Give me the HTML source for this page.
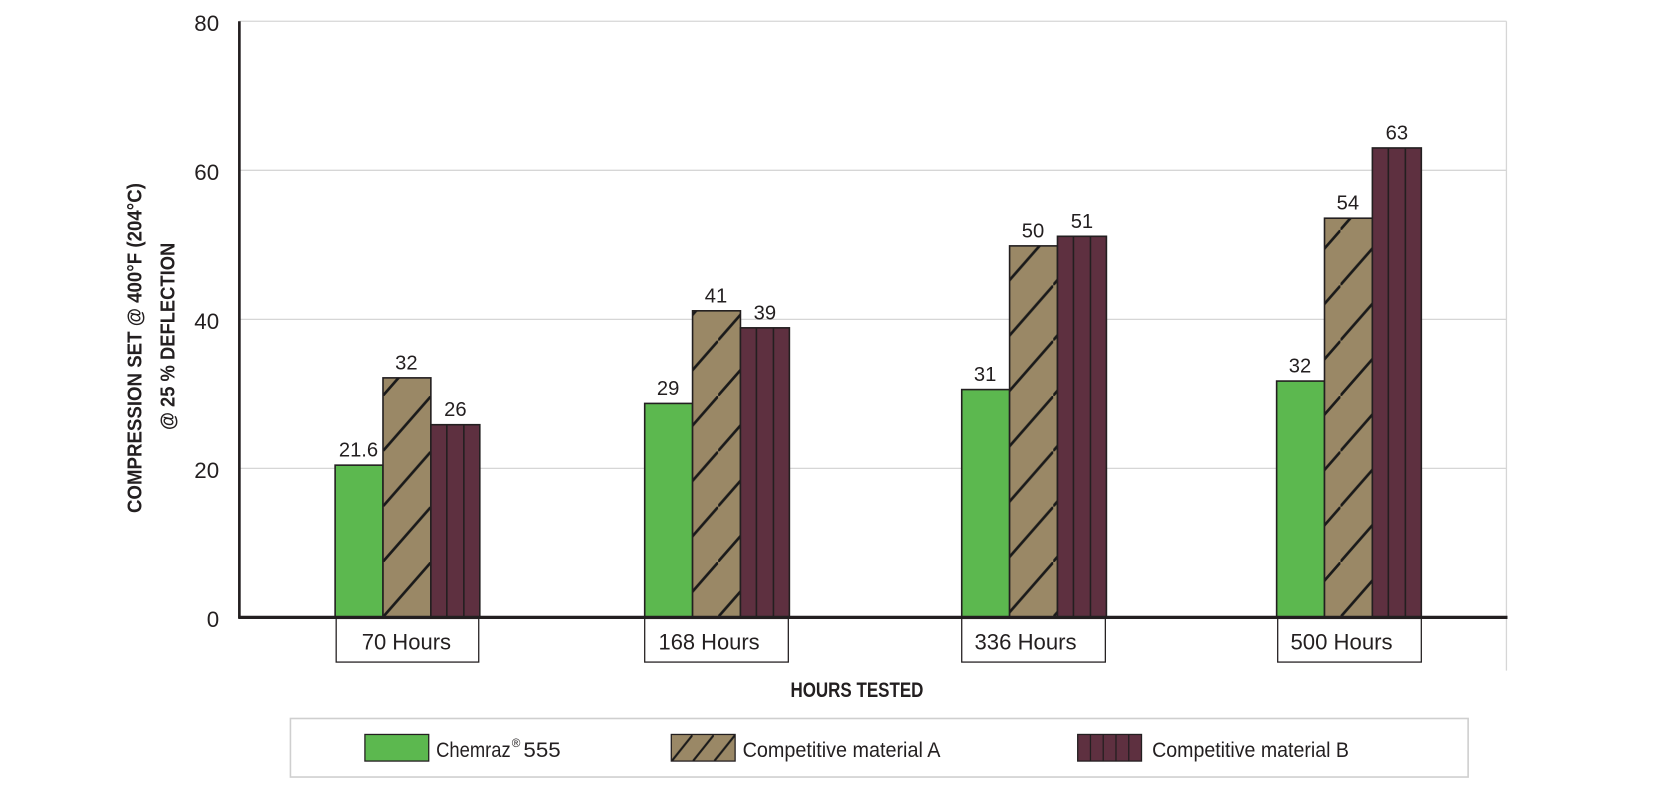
<!DOCTYPE html>
<html><head><meta charset="utf-8"><style>html,body{margin:0;padding:0;background:#fff}svg{display:block}
text{font-family:"Liberation Sans Narrow","Liberation Sans",sans-serif;fill:#231f20}</style></head>
<body>
<svg width="1666" height="793" viewBox="0 0 1566 745" preserveAspectRatio="none" xmlns="http://www.w3.org/2000/svg">
<defs>
<pattern id="hA" patternUnits="userSpaceOnUse" width="45" height="52" x="0" y="580">
<rect width="45" height="52" fill="#9a8866"/>
<line x1="-2" y1="54" x2="47" y2="-2" stroke="#1a1a1a" stroke-width="2.5"/>
</pattern>
<pattern id="hAL" patternUnits="userSpaceOnUse" width="20" height="26" x="631" y="690">
<rect width="20" height="26" fill="#9a8866"/>
<line x1="-2" y1="28" x2="22" y2="-2" stroke="#1a1a1a" stroke-width="2"/>
</pattern>
</defs>
<g stroke="#d6d6d6" stroke-width="1.2">
<line x1="225" y1="20" x2="1416" y2="20"/>
<line x1="225" y1="160" x2="1416" y2="160"/>
<line x1="225" y1="300" x2="1416" y2="300"/>
<line x1="225" y1="440" x2="1416" y2="440"/>
<line x1="1416" y1="20" x2="1416" y2="630"/>
</g>
<g font-size="21" text-anchor="end">
<text x="206" y="29">80</text><text x="206" y="169">60</text><text x="206" y="309">40</text><text x="206" y="449">20</text><text x="206" y="589">0</text>
</g>
<g transform="translate(133,327) rotate(-90)"><text x="-155" y="0" font-size="19" font-weight="bold" textLength="310" lengthAdjust="spacingAndGlyphs">COMPRESSION SET @ 400°F (204°C)</text></g>
<g transform="translate(164,316) rotate(-90)"><text x="-88" y="0" font-size="19" font-weight="bold" textLength="176" lengthAdjust="spacingAndGlyphs">@ 25 % DEFLECTION</text></g>

<g stroke="#231f20" stroke-width="1.5">
<rect x="315" y="437" width="45" height="143" fill="#5cb84f"/>
<rect x="360" y="355" width="45" height="225" fill="url(#hA)"/>
<rect x="405" y="399" width="46" height="181" fill="#5e3040"/>
<line x1="420" y1="399" x2="420" y2="580"/><line x1="436" y1="399" x2="436" y2="580"/>
<rect x="606" y="379" width="45" height="201" fill="#5cb84f"/>
<rect x="651" y="292" width="45" height="288" fill="url(#hA)"/>
<rect x="696" y="308" width="46" height="272" fill="#5e3040"/>
<line x1="711" y1="308" x2="711" y2="580"/><line x1="727" y1="308" x2="727" y2="580"/>
<rect x="904" y="366" width="45" height="214" fill="#5cb84f"/>
<rect x="949" y="231" width="45" height="349" fill="url(#hA)"/>
<rect x="994" y="222" width="46" height="358" fill="#5e3040"/>
<line x1="1009" y1="222" x2="1009" y2="580"/><line x1="1025" y1="222" x2="1025" y2="580"/>
<rect x="1200" y="358" width="45" height="222" fill="#5cb84f"/>
<rect x="1245" y="205" width="45" height="375" fill="url(#hA)"/>
<rect x="1290" y="139" width="46" height="441" fill="#5e3040"/>
<line x1="1305" y1="139" x2="1305" y2="580"/><line x1="1321" y1="139" x2="1321" y2="580"/>
</g>
<g font-size="19" text-anchor="middle">
<text x="337" y="429">21.6</text><text x="382" y="347">32</text><text x="428" y="391">26</text>
<text x="628" y="371">29</text><text x="673" y="284">41</text><text x="719" y="300">39</text>
<text x="926" y="358">31</text><text x="971" y="223">50</text><text x="1017" y="214">51</text>
<text x="1222" y="350">32</text><text x="1267" y="197">54</text><text x="1313" y="131">63</text>
</g>
<line x1="225" y1="20" x2="225" y2="581" stroke="#231f20" stroke-width="2.5"/>
<line x1="224" y1="580" x2="1417" y2="580" stroke="#231f20" stroke-width="3"/>
<g fill="#fff" stroke="#231f20" stroke-width="1.2">
<rect x="316" y="581" width="134" height="41"/><rect x="606" y="581" width="135" height="41"/>
<rect x="904" y="581" width="135" height="41"/><rect x="1201" y="581" width="135" height="41"/>
</g>
<g font-size="21" lengthAdjust="spacingAndGlyphs">
<text x="340" y="610" textLength="84" lengthAdjust="spacingAndGlyphs">70 Hours</text>
<text x="619" y="610" textLength="95" lengthAdjust="spacingAndGlyphs">168 Hours</text>
<text x="916" y="610" textLength="96" lengthAdjust="spacingAndGlyphs">336 Hours</text>
<text x="1213" y="610" textLength="96" lengthAdjust="spacingAndGlyphs">500 Hours</text>
</g>
<text x="743" y="655" font-size="20" font-weight="bold" textLength="125" lengthAdjust="spacingAndGlyphs">HOURS TESTED</text>
<rect x="273" y="675" width="1107" height="55" fill="none" stroke="#cfcfcf" stroke-width="1.5"/>
<g stroke="#231f20" stroke-width="1.2">
<rect x="343" y="690" width="60" height="25" fill="#5cb84f"/>
<rect x="631" y="690" width="60" height="25" fill="url(#hAL)"/>
<rect x="1013" y="690" width="60" height="25" fill="#5e3040"/>
<line x1="1025" y1="690" x2="1025" y2="715"/><line x1="1037" y1="690" x2="1037" y2="715"/><line x1="1049" y1="690" x2="1049" y2="715"/><line x1="1061" y1="690" x2="1061" y2="715"/>
</g>
<g font-size="20">
<text x="410" y="711" textLength="70" lengthAdjust="spacingAndGlyphs">Chemraz</text>
<text x="481" y="702" font-size="11">®</text>
<text x="492" y="711" textLength="35" lengthAdjust="spacingAndGlyphs">555</text>
<text x="698" y="711" textLength="186" lengthAdjust="spacingAndGlyphs">Competitive material A</text>
<text x="1083" y="711" textLength="185" lengthAdjust="spacingAndGlyphs">Competitive material B</text>
</g>
</svg>
</body></html>
